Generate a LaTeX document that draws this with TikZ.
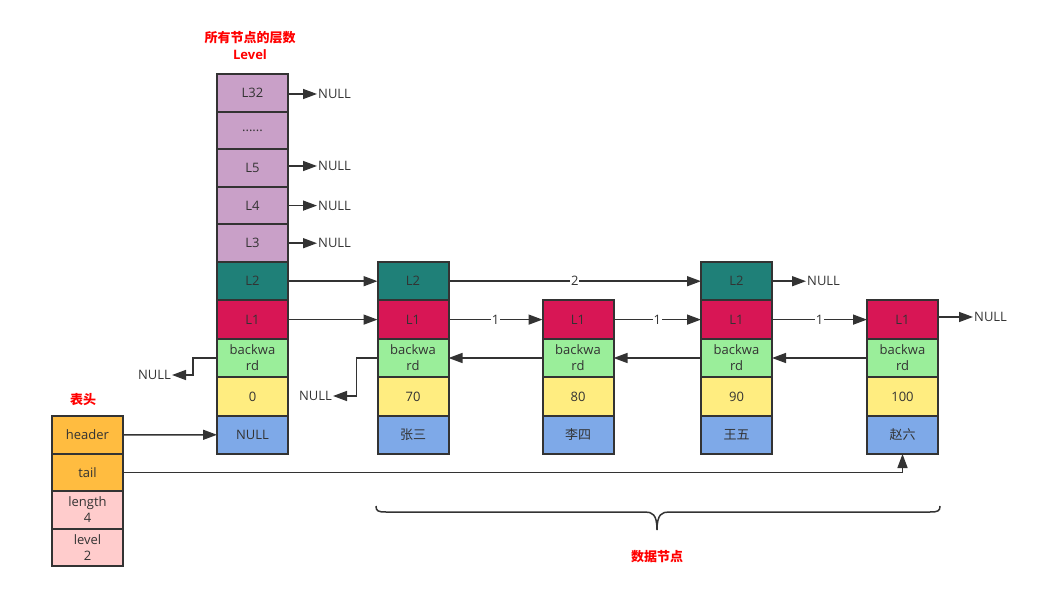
\documentclass[tikz,border=0pt]{standalone}
\usepackage{fontspec}
\setmainfont{Open Sans}
\newfontfamily\cjk{Noto Sans CJK SC}
\usetikzlibrary{positioning,arrows.meta}
\definecolor{edgec}{HTML}{333333}
\definecolor{textc}{HTML}{333333}
\definecolor{lvc}{HTML}{C9A0C8}
\definecolor{ltwoc}{HTML}{1F8078}
\definecolor{lonec}{HTML}{D81655}
\definecolor{bwc}{HTML}{9AEE9A}
\definecolor{valc}{HTML}{FFED80}
\definecolor{namec}{HTML}{7EA9E8}
\definecolor{headc}{HTML}{FFBC40}
\definecolor{infoc}{HTML}{FFCCCC}
\definecolor{redc}{HTML}{FF0000}
\tikzset{
  cell/.style={draw=edgec, line width=2pt, minimum width=71pt, minimum height=38.4pt,
    inner sep=0pt, outer sep=0pt, text=textc, align=center, font=\fontsize{13}{16}\selectfont},
  lvcell/.style={cell, fill=lvc, minimum height=37.6pt},
  ltwocell/.style={cell, fill=ltwoc},
  lonecell/.style={cell, fill=lonec},
  bwcell/.style={cell, fill=bwc},
  valcell/.style={cell, fill=valc},
  namecell/.style={cell, fill=namec},
  headcell/.style={cell, fill=headc, minimum height=37.5pt},
  infocell/.style={cell, fill=infoc, minimum height=37.5pt},
  nulltxt/.style={inner sep=1pt, text=textc, font=\fontsize{13}{16}\selectfont},
  redtxt/.style={inner sep=0pt, text=redc, font=\fontsize{13}{16}\selectfont\bfseries},
  link/.style={draw=edgec, line width=1.5pt, -{Triangle[length=14pt,width=10pt]}},
  wlabel/.style={fill=white, inner sep=1pt, text=textc, font=\fontsize{13}{16}\selectfont}
}
\begin{document}
\begin{tikzpicture}[x=1pt,y=-1pt]
            \useasboundingbox (0,0) rectangle (1039,601);

            %Titles
            \node[redtxt] at (250,38) (title) {\cjk 所有节点的层数};
            \node[redtxt] at (250,55) (titlelv) {Level};
            \node[redtxt] at (83,400) (tbtitle) {\cjk 表头};
            \node[redtxt] at (657,557) (datatitle) {\cjk 数据节点};

            %Header node
            \node[lvcell] at (252.5,92.8) (h32) {L32};
            \node[lvcell] at (252.5,130.4) (hdots) {......};
            \node[lvcell] at (252.5,168) (h5) {L5};
            \node[lvcell] at (252.5,205.6) (h4) {L4};
            \node[lvcell] at (252.5,243.2) (h3) {L3};
            \node[ltwocell] at (252.5,281.2) (h2) {L2};
            \node[lonecell] at (252.5,319.6) (h1) {L1};
            \node[bwcell] at (252.5,358) (hbw) {backwa\\rd};
            \node[valcell] at (252.5,396.4) (hval) {0};
            \node[namecell] at (252.5,434.8) (hnull) {NULL};

            %Data nodes
            \node[ltwocell] at (413,281.2) (a2) {L2};
            \node[lonecell] at (413,319.6) (a1) {L1};
            \node[bwcell] at (413,358) (abw) {backwa\\rd};
            \node[valcell] at (413,396.4) (aval) {70};
            \node[namecell] at (413,434.8) (aname) {\cjk 张三};

            \node[lonecell] at (578,319.6) (b1) {L1};
            \node[bwcell] at (578,358) (bbw) {backwa\\rd};
            \node[valcell] at (578,396.4) (bval) {80};
            \node[namecell] at (578,434.8) (bname) {\cjk 李四};

            \node[ltwocell] at (736.5,281.2) (c2) {L2};
            \node[lonecell] at (736.5,319.6) (c1) {L1};
            \node[bwcell] at (736.5,358) (cbw) {backwa\\rd};
            \node[valcell] at (736.5,396.4) (cval) {90};
            \node[namecell] at (736.5,434.8) (cname) {\cjk 王五};

            \node[lonecell] at (902.5,319.6) (d1) {L1};
            \node[bwcell] at (902.5,358) (dbw) {backwa\\rd};
            \node[valcell] at (902.5,396.4) (dval) {100};
            \node[namecell] at (902.5,434.8) (dname) {\cjk 赵六};

            %List table
            \node[headcell] at (87.5,434.75) (tbhead) {header};
            \node[headcell] at (87.5,472.25) (tbtail) {tail};
            \node[infocell] at (87.5,509.75) (tblen) {length\\4};
            \node[infocell] at (87.5,547.25) (tblevel) {level\\2};

            %NULL ends
            \node[nulltxt, anchor=west] at (317,94) (n32) {NULL};
            \node[nulltxt, anchor=west] at (317,166) (n5) {NULL};
            \node[nulltxt, anchor=west] at (317,205.6) (n4) {NULL};
            \node[nulltxt, anchor=west] at (317,243.2) (n3) {NULL};
            \node[nulltxt, anchor=west] at (806,281.2) (nc2) {NULL};
            \node[nulltxt, anchor=west] at (973,317) (nd1) {NULL};
            \node[nulltxt, anchor=east] at (172,375) (nhbw) {NULL};
            \node[nulltxt, anchor=east] at (333,396) (nabw) {NULL};

            %Lines
            \draw[link] (h32.east |- n32) -- (n32);
            \draw[link] (h5.east |- n5) -- (n5);
            \draw[link] (h4) -- (n4);
            \draw[link] (h3) -- (n3);
            \draw[link] (h2) -- (a2);
            \draw[link] (a2) -- node[wlabel] {2} (c2);
            \draw[link] (c2) -- (nc2);
            \draw[link] (h1) -- (a1);
            \draw[link] (a1) -- node[wlabel] {1} (b1);
            \draw[link] (b1) -- node[wlabel] {1} (c1);
            \draw[link] (c1) -- node[wlabel] {1} (d1);
            \draw[link] (d1.east |- nd1) -- (nd1);
            \draw[link] (hbw.west) -- ++(-24,0) |- (nhbw.east);
            \draw[link] (abw.west) -- ++(-21,0) |- (nabw.east);
            \draw[link] (bbw) -- (abw);
            \draw[link] (cbw) -- (bbw);
            \draw[link] (dbw) -- (cbw);
            \draw[link] (tbhead) -- (hnull);
            \draw[link] (tbtail.east) -| (dname.south);

            %Brace
            \draw[draw=edgec, line width=1.5pt] (376,506) .. controls (376,511) and (378,512) .. (386,512)
              -- (645,512) .. controls (652,512) and (657,514) .. (657,530)
              .. controls (657,514) and (662,512) .. (669,512)
              -- (930,512) .. controls (938,512) and (940,511) .. (940,506);
        \end{tikzpicture}
\end{document}
